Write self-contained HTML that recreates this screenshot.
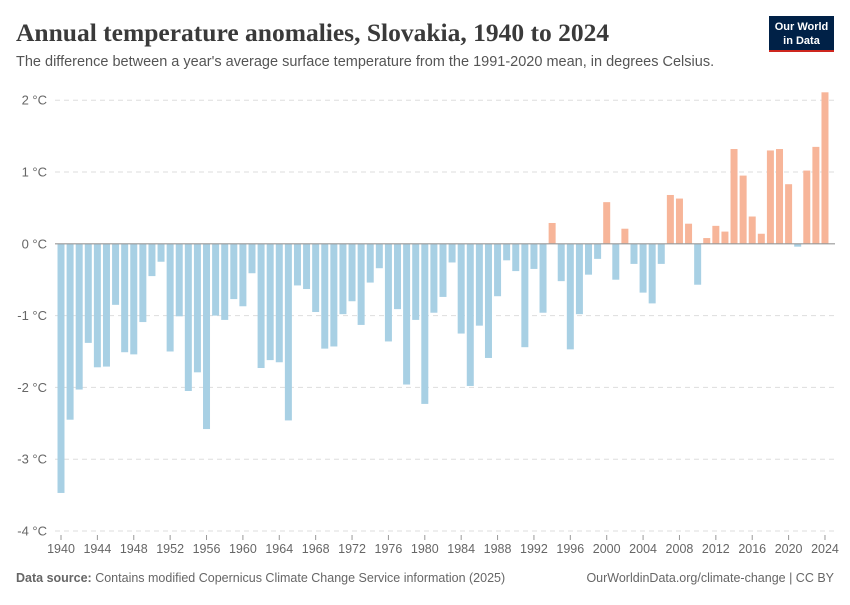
<!DOCTYPE html>
<html><head><meta charset="utf-8"><style>
body{margin:0;background:#fff;}
svg text{font-family:"Liberation Sans",sans-serif;}
</style></head><body>
<svg id="chart" width="850" height="600" xmlns="http://www.w3.org/2000/svg">
<text x="16" y="41" style="font-family:'Liberation Serif',serif" font-size="25.5" font-weight="bold" fill="#3a3a3a">Annual temperature anomalies, Slovakia, 1940 to 2024</text>
<text x="16" y="66" font-size="14.5" fill="#555">The difference between a year's average surface temperature from the 1991-2020 mean, in degrees Celsius.</text>
<g>
<rect x="769" y="16" width="65" height="36" fill="#002147"/>
<rect x="769" y="50" width="65" height="2" fill="#ce261e"/>
<text x="801.5" y="30" font-size="11" fill="#fff" text-anchor="middle" font-weight="bold">Our World</text>
<text x="801.5" y="44" font-size="11" fill="#fff" text-anchor="middle" font-weight="bold">in Data</text>
</g>
<g id="grid"></g>
<g id="bars"></g>
<g id="axes"></g>
<text x="16" y="582" font-size="12.5" fill="#666"><tspan font-weight="bold">Data source:</tspan> Contains modified Copernicus Climate Change Service information (2025)</text>
<text x="834" y="582" font-size="12.5" fill="#666" text-anchor="end">OurWorldinData.org/climate-change | CC BY</text>
</svg>
<script>
const years=[];for(let y=1940;y<=2024;y++)years.push(y);
const anomalies=[-3.47,-2.45,-2.03,-1.38,-1.72,-1.71,-0.85,-1.51,-1.54,-1.09,-0.45,-0.25,-1.50,-1.01,-2.05,-1.79,-2.58,-1.00,-1.06,-0.77,-0.87,-0.41,-1.73,-1.62,-1.65,-2.46,-0.58,-0.63,-0.95,-1.46,-1.43,-0.98,-0.80,-1.13,-0.54,-0.34,-1.36,-0.91,-1.96,-1.06,-2.23,-0.96,-0.74,-0.26,-1.25,-1.98,-1.14,-1.59,-0.73,-0.23,-0.38,-1.44,-0.35,-0.96,0.29,-0.52,-1.47,-0.98,-0.43,-0.21,0.58,-0.50,0.21,-0.28,-0.68,-0.83,-0.28,0.68,0.63,0.28,-0.57,0.08,0.25,0.17,1.32,0.95,0.38,0.14,1.30,1.32,0.83,-0.04,1.02,1.35,2.11];
const yTicks=[2,1,0,-1,-2,-3,-4];
const xTicks=[1940,1944,1948,1952,1956,1960,1964,1968,1972,1976,1980,1984,1988,1992,1996,2000,2004,2008,2012,2016,2020,2024];
const NS="http://www.w3.org/2000/svg";
const xS=y=>61+(y-1940)*9.095;
const yS=v=>243.8-v*71.8;
function mk(t,a,p){const e=document.createElementNS(NS,t);for(const k in a)e.setAttribute(k,a[k]);p.appendChild(e);return e;}
const grid=document.getElementById('grid'),bars=document.getElementById('bars'),axes=document.getElementById('axes');
yTicks.forEach(v=>{
 if(v!==0){const l=mk('line',{x1:55,x2:835,y1:yS(v),y2:yS(v),stroke:'#ddd','stroke-dasharray':'5,4'},grid);
 
 }
 const t=mk('text',{x:47,y:yS(v)+4.5,'font-size':13,fill:'#666','text-anchor':'end'},axes);
 t.textContent=v+' °C';
 
 
});
years.forEach((y,i)=>{
 const v=anomalies[i];const top=Math.min(yS(v),yS(0));const h=Math.abs(yS(v)-yS(0));
 const r=mk('rect',{x:xS(y)-3.5,y:top,width:7,height:Math.max(h,0.5),fill:v>=0?'#f7b599':'#a8d0e4'},bars);
 
 
});
const z=mk('line',{x1:55,x2:835,y1:yS(0),y2:yS(0),stroke:'#999','stroke-width':1.2},axes);


xTicks.forEach(y=>{
 const tk=mk('line',{x1:xS(y),x2:xS(y),y1:535,y2:540,stroke:'#999'},axes);
 
 
 const t=mk('text',{x:xS(y),y:553,'font-size':12.5,fill:'#666','text-anchor':'middle'},axes);
 t.textContent=y;
 
 
});
</script>
</body></html>
